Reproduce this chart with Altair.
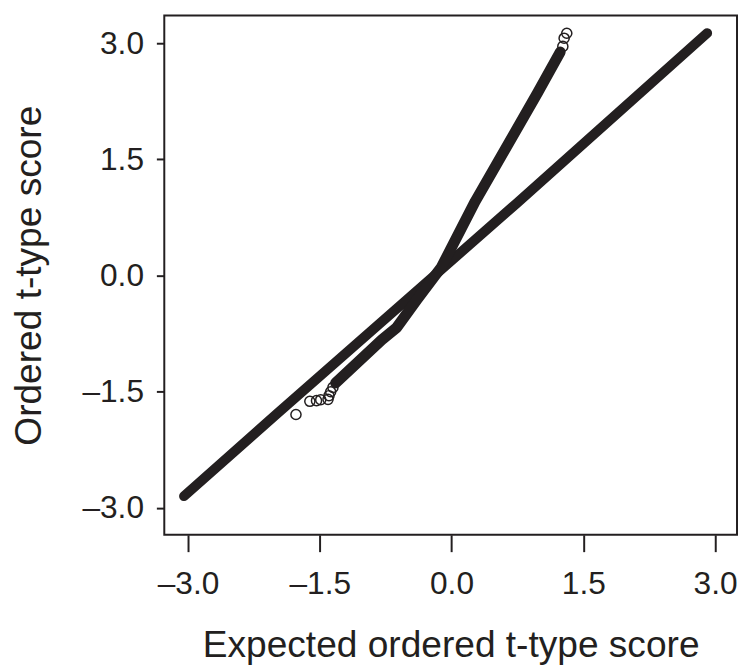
import altair as alt
import pandas as pd

# Null (straight) band: expected vs ordered under permutations
null_x = [-3.045, -2.0, 0.74, 2.91]
null_y = [-2.85, -1.80, 0.93, 3.13]

# Observed (steep) band
obs_x = [-1.32, -0.793, -0.626, -0.393, -0.116, 0.27, 0.98, 1.237]
obs_y = [-1.39, -0.83, -0.675, -0.31, 0.106, 0.957, 2.36, 2.885]

# Individual open circles at the tails of the observed band
pts_x = [-1.771, -1.613, -1.537, -1.489, -1.406, -1.395, -1.376, -1.350,
         1.267, 1.282, 1.312]
pts_y = [-1.796, -1.625, -1.617, -1.605, -1.600, -1.553, -1.502, -1.446,
         2.958, 3.064, 3.128]

tick_vals = [-3.0, -1.5, 0.0, 1.5, 3.0]

INK = "#231f20"
FONT = "Liberation Sans"

df_null = pd.DataFrame({"x": null_x, "y": null_y, "o": range(len(null_x))})
df_obs = pd.DataFrame({"x": obs_x, "y": obs_y, "o": range(len(obs_x))})
df_pts = pd.DataFrame({"x": pts_x, "y": pts_y})

label_expr = "datum.value < 0 ? '\u2013' + format(-datum.value, '.1f') : format(datum.value, '.1f')"

xscale = alt.Scale(domain=[-3.27, 3.25], nice=False, zero=False)
yscale = alt.Scale(domain=[-3.35, 3.357], nice=False, zero=False)

xaxis = alt.Axis(values=tick_vals, labelExpr=label_expr, title="Expected ordered t-type score",
                 tickSize=17, labelPadding=17, titleY=123, titleBaseline="alphabetic",
                 labelFontSize=32, titleFontSize=37.5)
yaxis = alt.Axis(values=tick_vals, labelExpr=label_expr, title="Ordered t-type score",
                 tickSize=8, labelPadding=13, titleX=-125, titleBaseline="alphabetic",
                 labelFontSize=32, titleFontSize=37.5)

x_enc = alt.X("x:Q", scale=xscale, axis=xaxis)
y_enc = alt.Y("y:Q", scale=yscale, axis=yaxis)

null_line = alt.Chart(df_null).mark_line(
    color=INK, strokeWidth=10, strokeCap="round", strokeJoin="round"
).encode(x=x_enc, y=y_enc, order="o:Q")

obs_line = alt.Chart(df_obs).mark_line(
    color=INK, strokeWidth=11, strokeCap="round", strokeJoin="round"
).encode(x=x_enc, y=y_enc, order="o:Q")

circles = alt.Chart(df_pts).mark_point(
    shape="circle", size=105, filled=False, color=INK, strokeWidth=1.5, opacity=1
).encode(x=x_enc, y=y_enc)

chart = alt.layer(null_line, obs_line, circles).properties(
    width=579, height=525,
    autosize=alt.AutoSizeParams(type="none"),
    padding={"left": 158, "top": 4, "right": 1, "bottom": 130},
).configure_view(
    stroke=INK, strokeWidth=2
).configure_axis(
    domain=False, grid=False, tickColor=INK, tickWidth=2,
    labelFont=FONT, titleFont=FONT, labelColor=INK, titleColor=INK,
    titleFontWeight="normal",
)

chart.save("out.html", embed_options={"renderer": "svg", "actions": False})
